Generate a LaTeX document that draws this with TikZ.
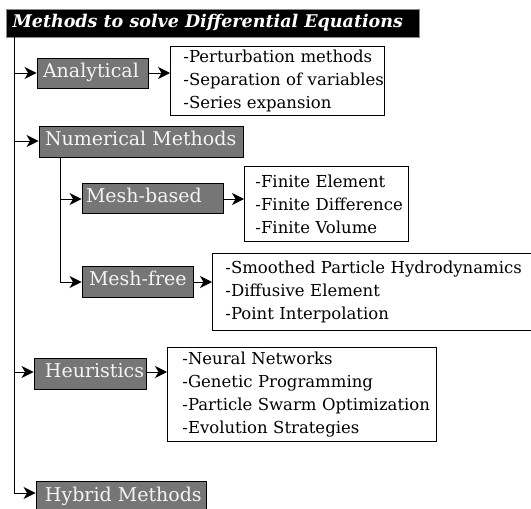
\documentclass[tikz,border=0pt]{standalone}
\usepackage{fontspec}
\setmainfont{DejaVu Serif}
\usetikzlibrary{arrows.meta}
\definecolor{gfill}{HTML}{767676}
\definecolor{gtext}{HTML}{F4F4F4}
\definecolor{tborder}{HTML}{8A8A8A}
\begin{document}
\begin{tikzpicture}[x=1pt,y=-1pt,
  ln/.style={line width=1pt},
  arr/.style={line width=1pt,-{Stealth[length=12pt,width=12pt,inset=3.5pt]}},
  gbox/.style={draw=black,line width=0.9pt,fill=gfill,text=gtext,inner sep=0pt,anchor=center,font=\fontsize{19}{22}\selectfont},
  lbox/.style={draw=black,line width=0.9pt,fill=white,anchor=north west,align=left,inner ysep=0pt,font=\fontsize{16.5}{23}\selectfont},
]
\clip (0,0) rectangle (531,509);
\fill[white] (0,0) rectangle (531,509);

% title
\node[fill=black,draw=tborder,line width=1pt,text=white,anchor=north west,minimum height=28pt,inner sep=0pt,
      font=\bfseries\itshape\fontsize{17.5}{20}\selectfont] (tt) at (6,9)
      {\makebox[413pt][l]{\hspace{6pt}\strut Methods to solve Differential Equations}};

% category boxes
\node[gbox,minimum height=30pt] (an) at (92.5,73) {\makebox[111pt][l]{\hspace{6pt}\strut Analytical}};
\node[gbox,minimum height=31pt] (nm) at (141,141.5) {\makebox[204pt][l]{\hspace{6pt}\strut Numerical Methods}};
\node[gbox,minimum height=30pt] (mb) at (152.5,198) {\makebox[141pt][l]{\hspace{4pt}\strut Mesh-based}};
\node[gbox,minimum height=31pt] (mf) at (137.5,281.5) {\makebox[111pt][l]{\hspace{7pt}\strut Mesh-free}};
\node[gbox,minimum height=31pt] (he) at (90,373.5) {\makebox[112pt][l]{\hspace{11pt}\strut Heuristics}};
\node[gbox,minimum height=32pt] (hy) at (121,497) {\makebox[170pt][l]{\hspace{9pt}\strut Hybrid Methods}};

% list boxes
\node[lbox,inner xsep=13pt,text width=188pt,minimum height=69pt] (l1) at (170,46)
  {\mbox{-Perturbation methods}\\\mbox{-Separation of variables}\\\mbox{-Series expansion}};
\node[lbox,inner xsep=11pt,text width=142pt,minimum height=75pt] (l2) at (244,166)
  {\mbox{-Finite Element}\\\mbox{-Finite Difference}\\\mbox{-Finite Volume}};
\node[lbox,inner xsep=13pt,text width=330pt,minimum height=77pt] (l3) at (212,253)
  {\mbox{-Smoothed Particle Hydrodynamics}\\\mbox{-Diffusive Element}\\\mbox{-Point Interpolation}};
\node[lbox,inner xsep=15pt,text width=239pt,minimum height=94pt] (l4) at (167,347)
  {\mbox{-Neural Networks}\\\mbox{-Genetic Programming}\\\mbox{-Particle Swarm Optimization}\\\mbox{-Evolution Strategies}};

% trunk coordinates
\coordinate (t0) at (14,37);
\coordinate (t1) at (14,73);
\coordinate (t2) at (14,141);
\coordinate (t3) at (14,372);
\coordinate (t4) at (14,493);
\coordinate (s0) at (60,157);
\coordinate (s1) at (60,199);
\coordinate (s2) at (60,282);

\draw[ln] (t0) -- (t4);
\draw[ln] (s0) -- (s2);

\draw[arr] (t1) -- (t1 -| an.west);
\draw[arr] (t2) -- (t2 -| nm.west);
\draw[arr] (t3) -- (t3 -| he.west);
\draw[arr] (t4) -- (t4 -| hy.west);
\draw[arr] (s1) -- (s1 -| mb.west);
\draw[arr] (s2) -- (s2 -| mf.west);

\draw[arr] (an.east |- t1) -- (t1 -| l1.west);
\draw[arr] (mb.east |- s1) -- (s1 -| l2.west);
\draw[arr] (mf.east |- s2) -- (s2 -| l3.west);
\draw[arr] (he.east |- t3) -- (t3 -| l4.west);
\end{tikzpicture}
\end{document}
